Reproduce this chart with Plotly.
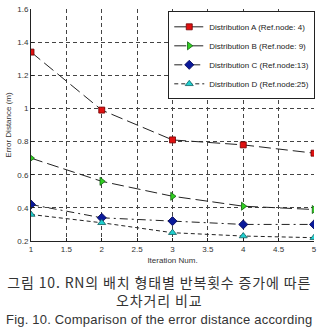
import plotly.graph_objects as go

iterations = [1, 2, 3, 4, 5]
dist_a = [1.34, 0.99, 0.81, 0.78, 0.73]
dist_b = [0.70, 0.56, 0.47, 0.41, 0.39]
dist_c = [0.42, 0.34, 0.32, 0.30, 0.30]
dist_d = [0.36, 0.31, 0.25, 0.23, 0.22]
names = ["Distribution A (Ref.node: 4)", "Distribution B (Ref.node: 9)",
         "Distribution C (Ref.node:13)", "Distribution D (Ref.node:25)"]
x_ticks = [1, 1.5, 2, 2.5, 3, 3.5, 4, 4.5, 5]
x_ticklabels = ["1", "1.5", "2", "2.5", "3", "3.5", "4", "4.5", "5"]
y_ticks = [0.2, 0.4, 0.6, 0.8, 1.0, 1.2, 1.4, 1.6]
y_ticklabels = ["0.2", "0.4", "0.6", "0.8", "1", "1.2", "1.4", "1.6"]
caption_kr1 = "그림 10. RN의 배치 형태별 반복횟수 증가에 따른"
caption_kr2 = "오차거리 비교"
caption_en = "Fig. 10. Comparison of the error distance according"

styles = [
    dict(dash="12px,5px", symbol="square", size=6, color="#e01010", edge="#700000"),
    dict(dash="12px,5px", symbol="triangle-right", size=7, color="#30d020", edge="#106010"),
    dict(dash="8px,4px,2px,4px", symbol="diamond", size=7, color="#0a1a9a", edge="#000050"),
    dict(dash="4px,3px", symbol="triangle-up", size=7, color="#20d0d0", edge="#106060"),
]
series = [dist_a, dist_b, dist_c, dist_d]

fig = go.Figure()
for name, vals, st in zip(names, series, styles):
    fig.add_trace(go.Scatter(
        x=iterations, y=vals, name=name, mode="lines+markers",
        line=dict(color="#222222", width=1, dash=st["dash"]),
        marker=dict(symbol=st["symbol"], size=st["size"], color=st["color"],
                    line=dict(color=st["edge"], width=0.8)),
    ))

axis_font = dict(family="Liberation Sans, Arial", size=8, color="#333333")
fig.update_layout(
    width=322, height=334,
    margin=dict(l=31, r=5, t=5, b=93),
    paper_bgcolor="white", plot_bgcolor="white",
    font=axis_font,
    showlegend=True,
    legend=dict(x=0.485, y=0.99, xanchor="left", yanchor="top",
                bgcolor="white", bordercolor="#222222", borderwidth=1,
                font=dict(family="Liberation Sans, Arial", size=8, color="#222222"),
                tracegroupgap=0, itemwidth=30),
    xaxis=dict(range=[1, 5], tickvals=x_ticks, ticktext=x_ticklabels,
               showgrid=True, gridcolor="#444444", griddash="4px,3px", gridwidth=1,
               showline=True, linecolor="#222222", linewidth=1, mirror=False,
               ticks="inside", ticklen=3, tickcolor="#222222",
               zeroline=False,
               title=dict(text="Iteration Num.", font=dict(size=8, color="#333333"), standoff=4)),
    yaxis=dict(range=[0.2, 1.6], tickvals=y_ticks, ticktext=y_ticklabels,
               showgrid=True, gridcolor="#444444", griddash="4px,3px", gridwidth=1,
               showline=True, linecolor="#222222", linewidth=1, mirror=False,
               ticks="inside", ticklen=3, tickcolor="#222222",
               zeroline=False,
               title=dict(text="Error Distance (m)", font=dict(size=8, color="#333333"), standoff=4)),
)

plot_top, plot_bottom = 5, 241
def py(pix):
    return (plot_bottom - pix) / (plot_bottom - plot_top)

caption = (
    '<span style="letter-spacing:0.85px">' + caption_kr1 + '</span><br>'
    + '<span style="letter-spacing:0.85px">' + caption_kr2 + '</span><br>'
    + '<span style="font-family:Liberation Sans, Arial;font-size:13px;letter-spacing:0.2px">'
    + caption_en + '</span>'
)
fig.add_annotation(text=caption, xref="paper", yref="paper", x=0.451, y=py(301),
                   xanchor="center", yanchor="middle", align="center", showarrow=False,
                   font=dict(family="Noto Sans CJK KR", size=14, color="#333333"))

fig.write_html("out.html")
